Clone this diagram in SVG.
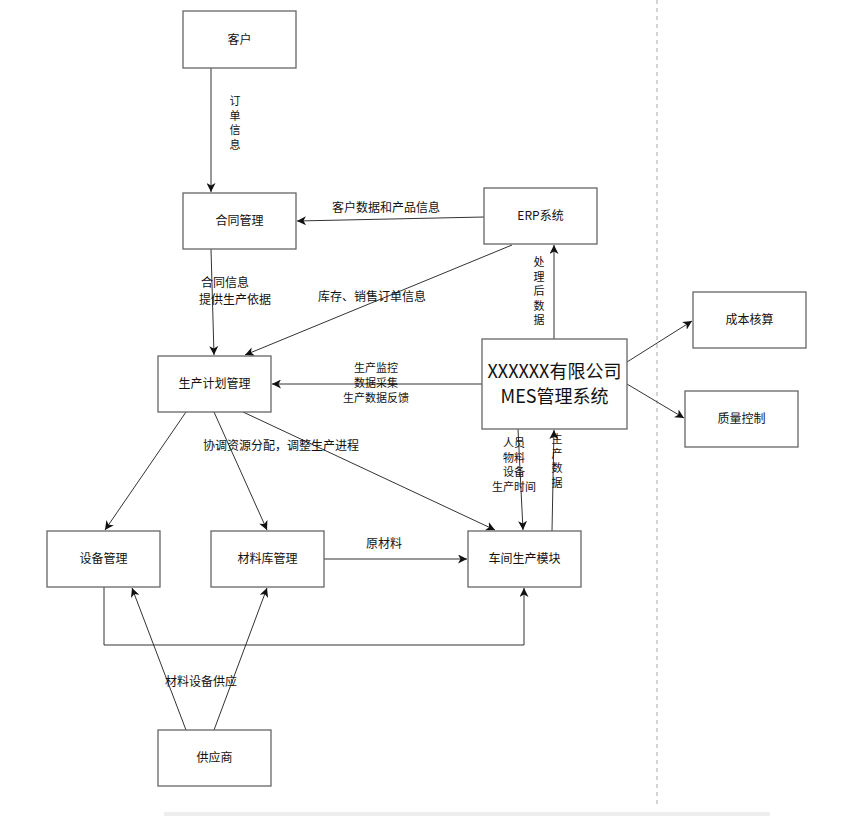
<svg xmlns="http://www.w3.org/2000/svg" width="865" height="816" viewBox="0 0 865 816">
<style>
.box{fill:#fff;stroke:#666;stroke-width:1.3}
.t{font-family:"Noto Sans CJK SC","Noto Sans",sans-serif;font-size:12px;fill:#111;text-anchor:middle}
.s{font-size:11px}
.big{font-size:18px}
.c{fill:none;stroke:#333;stroke-width:1}
.ca{fill:none;stroke:#333;stroke-width:1;marker-end:url(#ah)}
</style>
<defs>
<marker id="ah" markerUnits="userSpaceOnUse" markerWidth="10" markerHeight="9" refX="9" refY="4.5" orient="auto">
<path d="M0,0 L9,4.5 L0,9 L2.5,4.5 z" fill="#111"/>
</marker>
</defs>
<rect x="0" y="0" width="865" height="816" fill="#fff"/>
<line x1="657" y1="0" x2="657" y2="808" stroke="#c8c8c8" stroke-width="1.5" stroke-dasharray="4,4"/>
<rect x="164" y="812" width="606" height="4" fill="#eeeeee"/>

<g id="connectors">
<line class="ca" x1="211" y1="68" x2="211" y2="192"/>
<line class="ca" x1="484" y1="217" x2="297" y2="221"/>
<line class="ca" x1="211" y1="249" x2="214" y2="355"/>
<line class="ca" x1="512" y1="245" x2="245" y2="355"/>
<line class="ca" x1="554" y1="339" x2="554" y2="245"/>
<line class="ca" x1="482" y1="384" x2="272" y2="384"/>
<line class="ca" x1="627" y1="362" x2="692" y2="321"/>
<line class="ca" x1="627" y1="384" x2="684" y2="418"/>
<line class="ca" x1="186" y1="412" x2="105" y2="530"/>
<line class="ca" x1="214" y1="412" x2="267" y2="530"/>
<line class="ca" x1="243" y1="412" x2="495" y2="530"/>
<line class="ca" x1="518" y1="429" x2="523" y2="530"/>
<line class="ca" x1="552" y1="531" x2="554" y2="430"/>
<line class="ca" x1="324" y1="559" x2="467" y2="559"/>
<polyline class="ca" points="104,587 104,645 524,645 524,588"/>
<line class="ca" x1="186" y1="730" x2="132" y2="588"/>
<line class="ca" x1="214" y1="730" x2="267" y2="588"/>
</g>

<g id="edge-labels">
<text class="t s"><tspan x="235" y="105">订</tspan><tspan x="235" y="119.5">单</tspan><tspan x="235" y="134">信</tspan><tspan x="235" y="148.5">息</tspan></text>
<text class="t" x="386" y="212">客户数据和产品信息</text>
<text class="t" x="225" y="287">合同信息</text>
<text class="t" x="235" y="304">提供生产依据</text>
<text class="t" x="372" y="301">库存、销售订单信息</text>
<text class="t s"><tspan x="539" y="266">处</tspan><tspan x="539" y="280.5">理</tspan><tspan x="539" y="295">后</tspan><tspan x="539" y="309.5">数</tspan><tspan x="539" y="324">据</tspan></text>
<text class="t s" x="376" y="372">生产监控</text>
<text class="t s" x="376" y="387">数据采集</text>
<text class="t s" x="376" y="402">生产数据反馈</text>
<text class="t" x="281" y="450">协调资源分配，调整生产进程</text>
<text class="t s" x="514" y="447">人员</text>
<text class="t s" x="514" y="461.5">物料</text>
<text class="t s" x="514" y="476">设备</text>
<text class="t s" x="514" y="490.5">生产时间</text>
<text class="t s"><tspan x="557" y="443">生</tspan><tspan x="557" y="457.5">产</tspan><tspan x="557" y="472">数</tspan><tspan x="557" y="486.5">据</tspan></text>
<text class="t" x="384" y="548">原材料</text>
<text class="t" x="201" y="686">材料设备供应</text>
</g>

<g id="n-kehu"><rect class="box" x="183" y="11" width="113" height="57"/><text class="t" x="239.5" y="44">客户</text></g>
<g id="n-hetong"><rect class="box" x="183" y="193" width="113" height="56"/><text class="t" x="239.5" y="225">合同管理</text></g>
<g id="n-erp"><rect class="box" x="484" y="188" width="113" height="56"/><text class="t" x="540.5" y="220">ERP系统</text></g>
<g id="n-jihua"><rect class="box" x="158" y="356" width="113" height="56"/><text class="t" x="214.5" y="388">生产计划管理</text></g>
<g id="n-mes"><rect class="box" x="482" y="339" width="145" height="90"/><text class="t big" x="554.5" y="378">XXXXXX有限公司</text><text class="t big" x="554.5" y="403">MES管理系统</text></g>
<g id="n-chengben"><rect class="box" x="693" y="292" width="113" height="56"/><text class="t" x="749.5" y="324">成本核算</text></g>
<g id="n-zhiliang"><rect class="box" x="685" y="391" width="113" height="56"/><text class="t" x="741.5" y="423">质量控制</text></g>
<g id="n-shebei"><rect class="box" x="47" y="531" width="113" height="56"/><text class="t" x="103.5" y="563">设备管理</text></g>
<g id="n-cailiao"><rect class="box" x="211" y="531" width="113" height="56"/><text class="t" x="267.5" y="563">材料库管理</text></g>
<g id="n-chejian"><rect class="box" x="468" y="531" width="113" height="56"/><text class="t" x="524.5" y="563">车间生产模块</text></g>
<g id="n-gongying"><rect class="box" x="158" y="730" width="113" height="56"/><text class="t" x="214.5" y="762">供应商</text></g>
</svg>
